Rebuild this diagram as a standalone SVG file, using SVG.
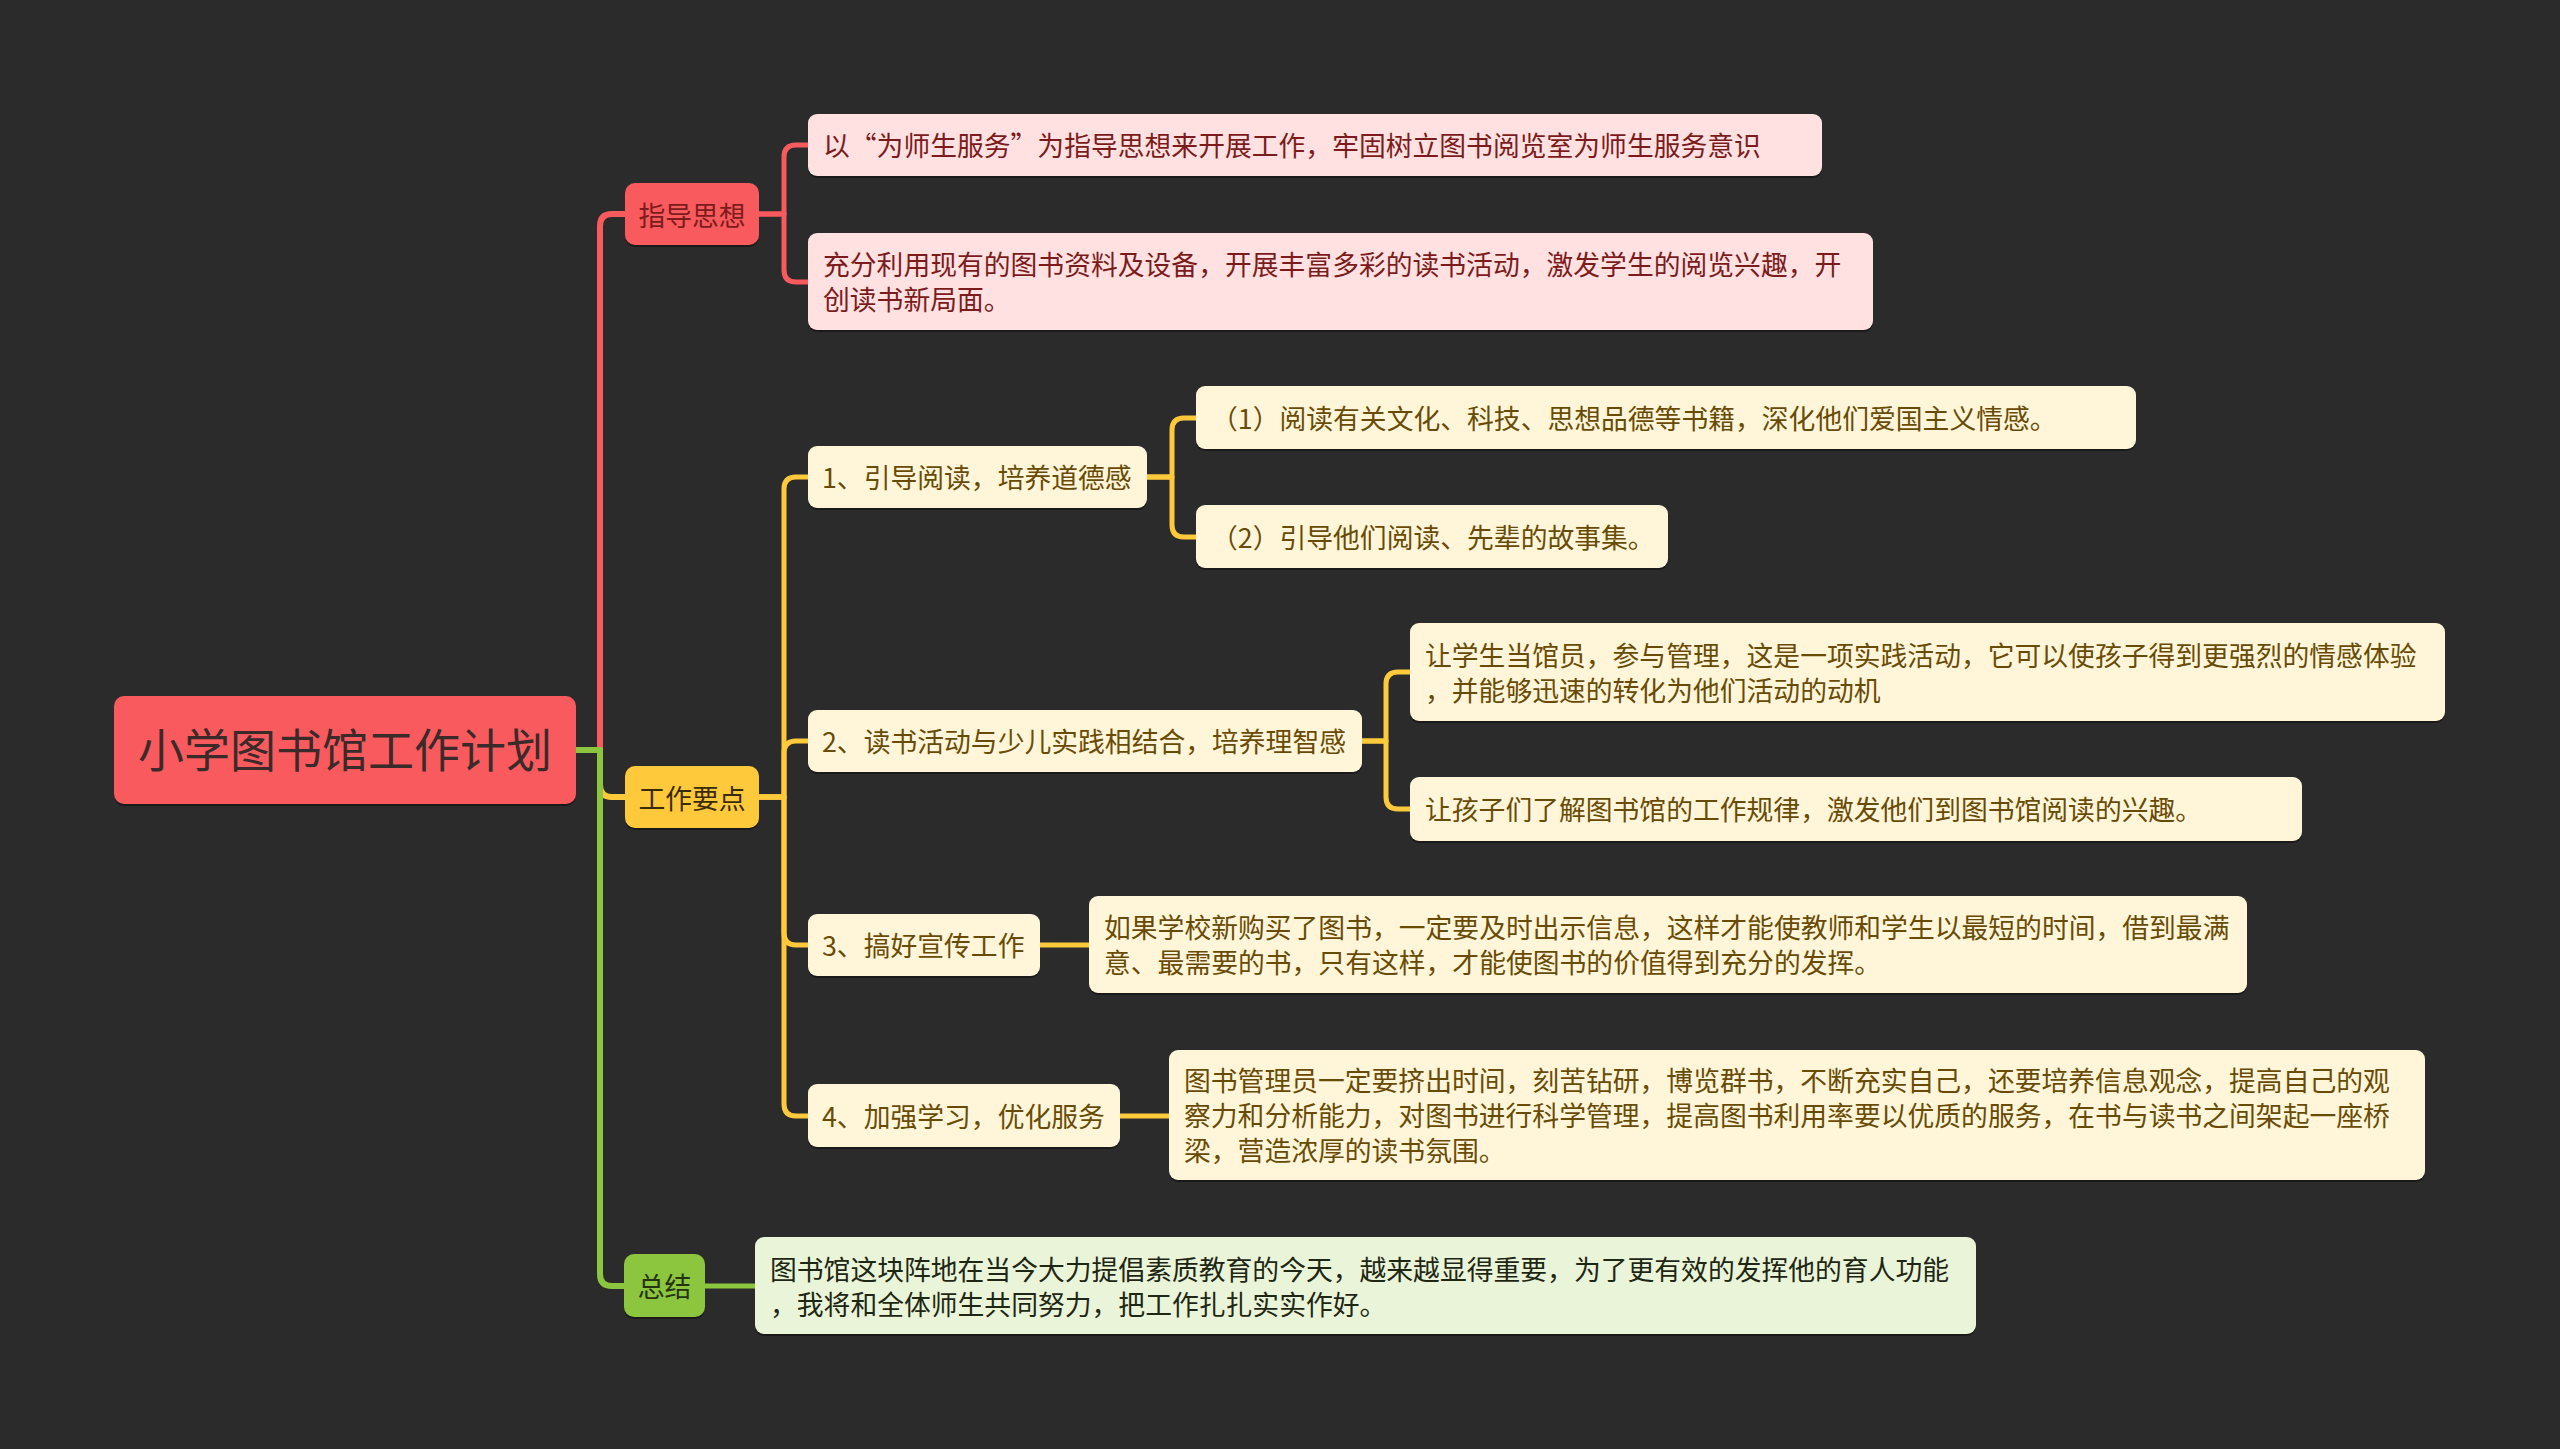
<svg xmlns="http://www.w3.org/2000/svg" width="2560" height="1449" viewBox="0 0 2560 1449">
<style>
text{font-family:"Noto Sans CJK SC","Noto Sans",sans-serif;font-size:26.8px}
.sh{fill:#141414;opacity:.7}
.c{fill:none;stroke-linejoin:round;stroke-linecap:butt}
.r{stroke:#F95A5E}
.y{stroke:#FFC93C}
.g{stroke:#8CC63F}
.red{fill:#F95A5E}
.pink{fill:#FFE1E2}
.yel{fill:#FFC93C}
.cream{fill:#FFF6DA}
.grn{fill:#8CC63F}
.lgrn{fill:#E9F4D8}
.tr{fill:#7C1B1B}
.ty{fill:#6A4B05}
.tyd{fill:#3A2A08}
.tg{fill:#263311}
.tgl{fill:#1E2614}
.mid{text-anchor:middle}
</style>
<rect width="2560" height="1449" fill="#2B2B2B"/>
<g id="connectors">
<path class="c r" stroke-width="6" d="M576,750 H600 V226 Q600,214 612,214 H626"/>
<path class="c y" stroke-width="6" d="M576,750 H600 V785 Q600,797 612,797 H626"/>
<path class="c g" stroke-width="6" d="M576,750 H600 V1274 Q600,1286 612,1286 H625"/>
<path class="c r" stroke-width="5" d="M759,214 H784 V157 Q784,145 796,145 H809"/>
<path class="c r" stroke-width="5" d="M759,214 H784 V270 Q784,282 796,282 H809"/>
<path class="c y" stroke-width="5" d="M759,797 H784 V489 Q784,477 796,477 H809"/>
<path class="c y" stroke-width="5" d="M759,797 H784 V753 Q784,741 796,741 H809"/>
<path class="c y" stroke-width="5" d="M759,797 H784 V933 Q784,945 796,945 H809"/>
<path class="c y" stroke-width="5" d="M759,797 H784 V1104 Q784,1116 796,1116 H809"/>
<path class="c y" stroke-width="5" d="M1147,477 H1172 V430 Q1172,418 1184,418 H1197"/>
<path class="c y" stroke-width="5" d="M1147,477 H1172 V525 Q1172,537 1184,537 H1197"/>
<path class="c y" stroke-width="5" d="M1362,741 H1386 V684 Q1386,672 1398,672 H1411"/>
<path class="c y" stroke-width="5" d="M1362,741 H1386 V797 Q1386,809 1398,809 H1411"/>
<path class="c y" stroke-width="5" d="M1040,945 H1090"/>
<path class="c y" stroke-width="5" d="M1120,1116 H1170"/>
<path class="c g" stroke-width="5" d="M705,1286 H756"/>
</g>
<g id="root">
<rect class="sh" x="114" y="698" width="462" height="108" rx="10"/>
<rect class="red" x="114" y="696" width="462" height="108" rx="10"/>
<text class="mid" x="345" y="767" style="font-size:46px" fill="#3A2A2A">小学图书馆工作计划</text>
</g>
<g id="n1">
<rect class="sh" x="625" y="185" width="134" height="62" rx="10"/>
<rect class="red" x="625" y="183" width="134" height="62" rx="10"/>
<text class="mid tr" x="692" y="226">指导思想</text>
</g>
<g id="n1a">
<rect class="sh" x="808" y="116" width="1014" height="62" rx="9"/>
<rect class="pink" x="808" y="114" width="1014" height="62" rx="9"/>
<text class="tr" x="823" y="156">以“为师生服务”为指导思想来开展工作，牢固树立图书阅览室为师生服务意识</text>
</g>
<g id="n1b">
<rect class="sh" x="808" y="235" width="1065" height="97" rx="9"/>
<rect class="pink" x="808" y="233" width="1065" height="97" rx="9"/>
<text class="tr" x="823" y="275">充分利用现有的图书资料及设备，开展丰富多彩的读书活动，激发学生的阅览兴趣，开</text>
<text class="tr" x="823" y="310">创读书新局面。</text>
</g>
<g id="n2">
<rect class="sh" x="625" y="768" width="134" height="62" rx="10"/>
<rect class="yel" x="625" y="766" width="134" height="62" rx="10"/>
<text class="mid tyd" x="692" y="809">工作要点</text>
</g>
<g id="n21">
<rect class="sh" x="808" y="448" width="339" height="62" rx="9"/>
<rect class="cream" x="808" y="446" width="339" height="62" rx="9"/>
<text class="ty" x="822" y="488">1、引导阅读，培养道德感</text>
</g>
<g id="n211">
<rect class="sh" x="1196" y="388" width="940" height="63" rx="9"/>
<rect class="cream" x="1196" y="386" width="940" height="63" rx="9"/>
<text class="ty" x="1211" y="429">（1）阅读有关文化、科技、思想品德等书籍，深化他们爱国主义情感。</text>
</g>
<g id="n212">
<rect class="sh" x="1196" y="507" width="472" height="63" rx="9"/>
<rect class="cream" x="1196" y="505" width="472" height="63" rx="9"/>
<text class="ty" x="1211" y="548">（2）引导他们阅读、先辈的故事集。</text>
</g>
<g id="n22">
<rect class="sh" x="808" y="712" width="554" height="62" rx="9"/>
<rect class="cream" x="808" y="710" width="554" height="62" rx="9"/>
<text class="ty" x="822" y="752">2、读书活动与少儿实践相结合，培养理智感</text>
</g>
<g id="n221">
<rect class="sh" x="1410" y="625" width="1035" height="98" rx="9"/>
<rect class="cream" x="1410" y="623" width="1035" height="98" rx="9"/>
<text class="ty" x="1425" y="666">让学生当馆员，参与管理，这是一项实践活动，它可以使孩子得到更强烈的情感体验</text>
<text class="ty" x="1425" y="701">，并能够迅速的转化为他们活动的动机</text>
</g>
<g id="n222">
<rect class="sh" x="1410" y="779" width="892" height="64" rx="9"/>
<rect class="cream" x="1410" y="777" width="892" height="64" rx="9"/>
<text class="ty" x="1425" y="820">让孩子们了解图书馆的工作规律，激发他们到图书馆阅读的兴趣。</text>
</g>
<g id="n23">
<rect class="sh" x="808" y="916" width="232" height="62" rx="9"/>
<rect class="cream" x="808" y="914" width="232" height="62" rx="9"/>
<text class="ty" x="822" y="956">3、搞好宣传工作</text>
</g>
<g id="n231">
<rect class="sh" x="1089" y="898" width="1158" height="97" rx="9"/>
<rect class="cream" x="1089" y="896" width="1158" height="97" rx="9"/>
<text class="ty" x="1104" y="938">如果学校新购买了图书，一定要及时出示信息，这样才能使教师和学生以最短的时间，借到最满</text>
<text class="ty" x="1104" y="973">意、最需要的书，只有这样，才能使图书的价值得到充分的发挥。</text>
</g>
<g id="n24">
<rect class="sh" x="808" y="1086" width="312" height="63" rx="9"/>
<rect class="cream" x="808" y="1084" width="312" height="63" rx="9"/>
<text class="ty" x="822" y="1127">4、加强学习，优化服务</text>
</g>
<g id="n241">
<rect class="sh" x="1169" y="1052" width="1256" height="130" rx="9"/>
<rect class="cream" x="1169" y="1050" width="1256" height="130" rx="9"/>
<text class="ty" x="1184" y="1091">图书管理员一定要挤出时间，刻苦钻研，博览群书，不断充实自己，还要培养信息观念，提高自己的观</text>
<text class="ty" x="1184" y="1126">察力和分析能力，对图书进行科学管理，提高图书利用率要以优质的服务，在书与读书之间架起一座桥</text>
<text class="ty" x="1184" y="1161">梁，营造浓厚的读书氛围。</text>
</g>
<g id="n3">
<rect class="sh" x="624" y="1256" width="81" height="63" rx="10"/>
<rect class="grn" x="624" y="1254" width="81" height="63" rx="10"/>
<text class="mid tg" x="664.5" y="1297">总结</text>
</g>
<g id="n31">
<rect class="sh" x="755" y="1239" width="1221" height="97" rx="9"/>
<rect class="lgrn" x="755" y="1237" width="1221" height="97" rx="9"/>
<text class="tgl" x="770" y="1280">图书馆这块阵地在当今大力提倡素质教育的今天，越来越显得重要，为了更有效的发挥他的育人功能</text>
<text class="tgl" x="770" y="1315">，我将和全体师生共同努力，把工作扎扎实实作好。</text>
</g>
</svg>
